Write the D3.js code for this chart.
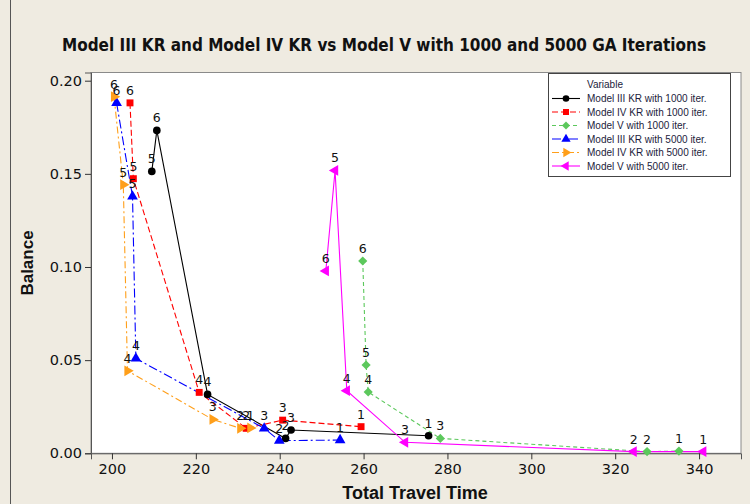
<!DOCTYPE html>
<html><head><meta charset="utf-8">
<script src="https://cdn.jsdelivr.net/npm/d3@7"></script>
<style>body{margin:0;background:#EFEBE1}svg{display:block}</style>
</head><body><svg id="c" width="750" height="504"></svg>
<script>
// ---- data (label = 1..6 in order) ----
const pointLabels = ["1","2","3","4","5","6"];
const seriesNames = ["Model III KR with 1000 iter.","Model IV KR with 1000 iter.","Model V with 1000 iter.","Model III KR with 5000 iter.","Model IV KR with 5000 iter.","Model V with 5000 iter."];
const m3k1000X = [275.5, 241.4, 242.7, 222.8, 209.5, 210.7];
const m3k1000Y = [0.0094, 0.0080, 0.0125, 0.0316, 0.1513, 0.1733];
const m4k1000X = [259.4, 232.0, 240.7, 220.8, 205.1, 204.3];
const m4k1000Y = [0.0143, 0.0134, 0.0178, 0.0327, 0.1474, 0.1881];
const m5k1000X = [335.2, 327.6, 278.3, 261.1, 260.6, 259.8];
const m5k1000Y = [0.0012, 0.0009, 0.0080, 0.0329, 0.0474, 0.1032];
const m3k5000X = [254.4, 239.9, 236.3, 205.7, 204.9, 201.1];
const m3k5000Y = [0.0071, 0.0068, 0.0134, 0.0509, 0.1379, 0.1881];
const m4k5000X = [233.0, 230.6, 224.0, 203.7, 202.7, 200.5];
const m4k5000Y = [0.0136, 0.0134, 0.0182, 0.0443, 0.1442, 0.1914];
const m5k5000X = [341.0, 324.4, 269.9, 256.0, 253.2, 251.0];
const m5k5000Y = [0.0009, 0.0009, 0.0059, 0.0336, 0.1518, 0.0979];
const xTicks = [200,220,240,260,280,300,320,340];
const yTicks = [0, 0.05, 0.10, 0.15, 0.20];

const styles = [
  {color:"#000000", dash:null, sym:d3.symbolCircle, size:46, rot:0},
  {color:"#FF0000", dash:"6,3", sym:d3.symbolSquare, size:48, rot:0},
  {color:"#5CC85C", dash:"4,3", sym:d3.symbolSquare, size:42, rot:45},
  {color:"#0000FF", dash:"9,3,2,3", sym:d3.symbolTriangle, size:50, rot:0},
  {color:"#FF9F1A", dash:"7,3,2,3", sym:d3.symbolTriangle, size:50, rot:90},
  {color:"#FF00FF", dash:null, sym:d3.symbolTriangle, size:50, rot:-90}
];
const seriesX = [m3k1000X, m4k1000X, m5k1000X, m3k5000X, m4k5000X, m5k5000X];
const seriesY = [m3k1000Y, m4k1000Y, m5k1000Y, m3k5000Y, m4k5000Y, m5k5000Y];

const svg = d3.select("#c");
const x = d3.scaleLinear().domain([195, 350]).range([91, 741]);
const y = d3.scaleLinear().domain([0, 0.2044]).range([453.3, 72.5]);

svg.append("rect").attr("width",750).attr("height",504).attr("fill","#EFEBE1");
svg.append("line").attr("x1",10.5).attr("x2",10.5).attr("y1",0).attr("y2",504).attr("stroke","#555");
svg.append("rect").attr("x",91).attr("y",72.5).attr("width",650).attr("height",380.8)
  .attr("fill","#fff").attr("stroke","#8a8a8a");

// title
svg.append("text").attr("x",384).attr("y",51).attr("text-anchor","middle")
  .attr("font-family","'DejaVu Sans Condensed','DejaVu Sans',sans-serif").attr("font-weight","bold")
  .attr("font-size",17).attr("fill","#111")
  .attr("textLength",644).attr("lengthAdjust","spacingAndGlyphs")
  .text("Model III KR and Model IV KR vs Model V with 1000 and 5000 GA Iterations");

// axes
const xa = svg.append("g").attr("transform","translate(0,453.3)")
  .call(d3.axisBottom(x).tickValues(xTicks).tickSize(6).tickPadding(4).tickFormat(d3.format("d")));
const ya = svg.append("g").attr("transform","translate(91,0)")
  .call(d3.axisLeft(y).tickValues(yTicks).tickSize(6).tickPadding(3).tickFormat(d3.format(".2f")));
[xa, ya].forEach(a=>{
  a.select(".domain").attr("stroke","#555");
  a.selectAll(".tick line").attr("stroke","#333");
  a.selectAll(".tick text").attr("font-family","'DejaVu Sans',sans-serif").attr("font-size",14.5).attr("fill","#111");
});

svg.append("text").attr("x",415).attr("y",499).attr("text-anchor","middle")
  .attr("font-family","'Liberation Sans',Arial,sans-serif").attr("font-weight","bold").attr("font-size",18)
  .attr("fill","#111").text("Total Travel Time");
svg.append("text").attr("transform","translate(33,263) rotate(-90)").attr("text-anchor","middle")
  .attr("font-family","'Liberation Sans',Arial,sans-serif").attr("font-weight","bold").attr("font-size",17)
  .attr("fill","#111").text("Balance");

// series
const line = d3.line().x(d=>x(d.x)).y(d=>y(d.y));
const plot = svg.append("g");
const allPts = [];
seriesX.forEach((xs, i)=>{
  const pts = xs.map((v,j)=>({x:v, y:seriesY[i][j], lab:pointLabels[j], s:i}));
  const sorted = pts.slice().sort((a,b)=>a.x-b.x);
  const st = styles[i];
  plot.append("path").attr("d", line(sorted)).attr("fill","none").attr("stroke", st.color)
    .attr("stroke-width",1.1).attr("stroke-dasharray", st.dash);
  allPts.push(...pts);
});
seriesX.forEach((xs,i)=>{
  const st = styles[i];
  const sym = d3.symbol().type(st.sym).size(st.size);
  xs.forEach((v,j)=>{
    plot.append("path").attr("d", sym())
      .attr("transform", `translate(${x(v)},${y(seriesY[i][j])}) rotate(${st.rot})`)
      .attr("fill", st.color);
  });
});
plot.selectAll("text.lab").data(allPts).join("text").attr("class","lab")
  .attr("x", d=>x(d.x)).attr("y", d=>y(d.y)-8).attr("text-anchor","middle")
  .attr("font-family","'DejaVu Sans',sans-serif").attr("font-size",12.5).attr("fill","#111")
  .text(d=>d.lab);

// legend
const lg = svg.append("g");
lg.append("rect").attr("x",548.5).attr("y",73.5).attr("width",182).attr("height",103)
  .attr("fill","#fff").attr("stroke","#444");
lg.append("text").attr("x",587).attr("y",88).attr("font-family","'Liberation Sans',Arial,sans-serif")
  .attr("font-size",10).attr("fill","#1c1c3c").text("Variable");
seriesNames.forEach((name,i)=>{
  const st = styles[i];
  const cy = 98.5 + i*13.5;
  lg.append("line").attr("x1",552).attr("x2",580).attr("y1",cy).attr("y2",cy)
    .attr("stroke",st.color).attr("stroke-width",1.1).attr("stroke-dasharray",st.dash);
  lg.append("path").attr("d", d3.symbol().type(st.sym).size(st.size*0.75)())
    .attr("transform",`translate(566,${cy}) rotate(${st.rot})`).attr("fill",st.color);
  lg.append("text").attr("x",587).attr("y",cy+3.5).attr("font-family","'Liberation Sans',Arial,sans-serif")
    .attr("font-size",10).attr("fill","#1c1c3c").text(name);
});
</script></body></html>
